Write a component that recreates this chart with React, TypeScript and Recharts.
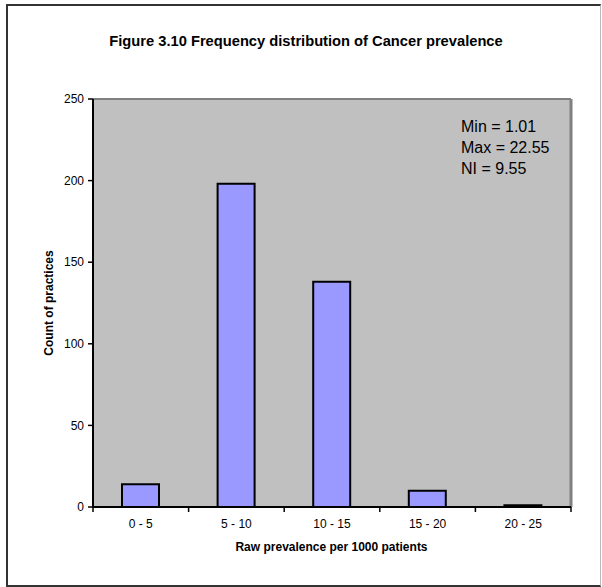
import React from 'react';
import { BarChart, Bar, XAxis, YAxis, CartesianGrid, ReferenceLine } from 'recharts';

const bins = ['0 - 5', '5 - 10', '10 - 15', '15 - 20', '20 - 25'];
const counts = [14, 198, 138, 10, 1];
const yTicks = [0, 50, 100, 150, 200, 250];
const notes = ['Min = 1.01', 'Max = 22.55', 'NI = 9.55'];

const W = 602;
const H = 587;
const PLOT_LEFT = 93;
const PLOT_RIGHT = 571;
const PLOT_TOP = 99;
const PLOT_BOTTOM = 507;
const BAND = (PLOT_RIGHT - PLOT_LEFT) / bins.length;
const FONT = '"Liberation Sans", Arial, sans-serif';

const data = bins.map((bin, i) => ({ bin, count: counts[i] }));

// category label centred in the band, tick marks on the band edges
const BinTick = (props: any) => {
  const { x, payload, index } = props;
  const left = x - BAND / 2;
  return (
    <g>
      <line x1={left} x2={left} y1={PLOT_BOTTOM} y2={PLOT_BOTTOM + 5} stroke="#000" strokeWidth={1.5} />
      {index === bins.length - 1 && (
        <line x1={x + BAND / 2} x2={x + BAND / 2} y1={PLOT_BOTTOM} y2={PLOT_BOTTOM + 5} stroke="#000" strokeWidth={1.5} />
      )}
      <text x={x} y={PLOT_BOTTOM + 21} textAnchor="middle" fontSize={12} fontFamily={FONT} fill="#000">
        {payload.value}
      </text>
    </g>
  );
};

const App = () => {
  return (
    <div style={{ position: 'absolute', left: 0, top: 0, width: W, height: H, overflow: 'hidden', background: '#fff', fontFamily: FONT, color: '#000' }}>
      {/* outer chart frame */}
      <div style={{ position: 'absolute', left: 6, top: 4, width: 595, height: 583, boxSizing: 'border-box', border: '2px solid #333', borderRightColor: '#bbb', borderRightWidth: 1 }} />
      <div style={{ position: 'absolute', left: 0, top: 0 }}>
        <BarChart
          width={W}
          height={H}
          data={data}
          margin={{ top: PLOT_TOP, right: W - PLOT_RIGHT, bottom: H - PLOT_BOTTOM - 30, left: PLOT_LEFT - 60 }}
        >
          <CartesianGrid horizontal={false} vertical={false} fill="#C0C0C0" fillOpacity={1} />
          <XAxis
            dataKey="bin"
            height={30}
            tickLine={false}
            axisLine={{ stroke: '#000', strokeWidth: 2 }}
            tick={<BinTick />}
            interval={0}
          />
          <YAxis
            width={60}
            domain={[0, 250]}
            ticks={yTicks}
            tickSize={5}
            tickMargin={4}
            axisLine={{ stroke: '#000', strokeWidth: 2 }}
            tickLine={{ stroke: '#000', strokeWidth: 1.5 }}
            tick={{ fill: '#000', fontSize: 12, fontFamily: FONT }}
          />
          <ReferenceLine y={250} stroke="#808080" strokeWidth={2} />
          <ReferenceLine x="20 - 25" position="end" stroke="#808080" strokeWidth={3} />
          <Bar dataKey="count" fill="#9999FF" stroke="#000" strokeWidth={2} barSize={37} isAnimationActive={false} />
        </BarChart>
      </div>
      <div style={{ position: 'absolute', left: 0, top: 32, width: 612, height: 18, lineHeight: '18px', textAlign: 'center', fontSize: 14.7, fontWeight: 'bold', whiteSpace: 'nowrap' }}>
        Figure 3.10 Frequency distribution of Cancer prevalence
      </div>
      <div style={{ position: 'absolute', left: 49, top: 303, transform: 'translate(-50%, -50%) rotate(-90deg)', fontSize: 12, fontWeight: 'bold', whiteSpace: 'nowrap', lineHeight: '14px' }}>
        Count of practices
      </div>
      <div style={{ position: 'absolute', left: 0, top: 540, width: 663, textAlign: 'center', fontSize: 12, fontWeight: 'bold', lineHeight: '14px', whiteSpace: 'nowrap' }}>
        Raw prevalence per 1000 patients
      </div>
      <div style={{ position: 'absolute', left: 461, top: 116, fontSize: 16, lineHeight: '21px', whiteSpace: 'nowrap' }}>
        {notes.map((n) => (
          <div key={n}>{n}</div>
        ))}
      </div>
    </div>
  );
};

export default App;
